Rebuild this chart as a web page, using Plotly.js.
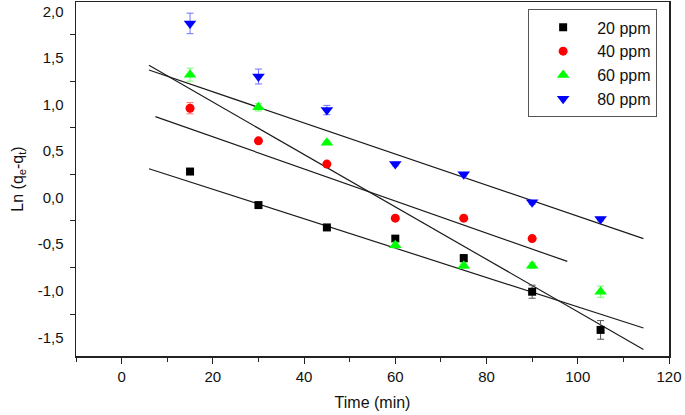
<!DOCTYPE html>
<html>
<head>
<meta charset="utf-8">
<script src="https://cdn.plot.ly/plotly-3.0.1.min.js"></script>
<style>
  html, body { margin: 0; padding: 0; background: #fff; }
  #chart { width: 685px; height: 415px; }
</style>
</head>
<body>
<div id="chart"></div>
<script>
// ---- data ----
const time = [15, 30, 45, 60, 75, 90, 105];

const ppm20 = [0.28, -0.08, -0.32, -0.44, -0.65, -1.01, -1.42];
const ppm40 = [0.96, 0.61, 0.36, -0.22, -0.22, -0.44, null];
const ppm60 = [1.32, 0.97, 0.59, -0.51, -0.73, -0.73, -1.01];
const ppm80 = [1.87, 1.30, 0.94, 0.36, 0.25, -0.05, -0.23];

const err20 = [0.02, 0.02, 0.02, 0.03, 0.04, 0.07, 0.10];
const err40 = [0.06, 0.02, 0.02, 0.02, 0.02, 0.02, 0];
const err60 = [0.07, 0.04, 0.02, 0.03, 0.03, 0.03, 0.06];
const err80 = [0.11, 0.08, 0.05, 0.02, 0.02, 0.02, 0.02];

// linear fit lines (end points)
const fit20x = [6, 114.4],  fit20y = [0.31, -1.40];
const fit40x = [7.4, 97.7], fit40y = [0.87, -0.685];
const fit60x = [6, 114.4],  fit60y = [1.42, -1.63];
const fit80x = [6, 114.4],  fit80y = [1.37, -0.44];

const seriesNames = ['20 ppm', '40 ppm', '60 ppm', '80 ppm'];

const xTickVals = [0, 20, 40, 60, 80, 100, 120];
const xTickText = ['0', '20', '40', '60', '80', '100', '120'];
const xMinorVals = [-10, 10, 30, 50, 70, 90, 110];
const yTickVals = [2.0, 1.5, 1.0, 0.5, 0.0, -0.5, -1.0, -1.5];
const yTickText = ['2,0', '1,5', '1,0', '0,5', '0,0', '-0,5', '-1,0', '-1,5'];
const yMinorVals = [1.75, 1.25, 0.75, 0.25, -0.25, -0.75, -1.25];

// ---- chart ----
const FONT = 'Arial, "Liberation Sans", sans-serif';

function fit(x, y) {
  return { x: x, y: y, type: 'scatter', mode: 'lines', showlegend: false,
           hoverinfo: 'skip', line: { color: '#1a1a1a', width: 1.2 } };
}
function pts(y, err, name, color, errColor, symbol, size) {
  return { x: time, y: y, name: name, type: 'scatter', mode: 'markers',
           marker: { color: color, symbol: symbol, size: size },
           error_y: { type: 'data', array: err, visible: true, color: errColor,
                      thickness: 1, width: 3.5 } };
}

const traces = [
  fit(fit20x, fit20y), fit(fit40x, fit40y), fit(fit60x, fit60y), fit(fit80x, fit80y),
  pts(ppm20, err20, seriesNames[0], '#000000', '#555555', 'square', 8),
  pts(ppm40, err40, seriesNames[1], '#ff0000', '#ff7070', 'circle', 9),
  pts(ppm60, err60, seriesNames[2], '#00ff00', '#70ff70', 'triangle-up', 11),
  pts(ppm80, err80, seriesNames[3], '#0000ff', '#7070ff', 'triangle-down', 11)
];

const layout = {
  width: 685, height: 415,
  margin: { l: 76, r: 16, t: 1.5, b: 59, pad: 0 },
  paper_bgcolor: '#ffffff', plot_bgcolor: '#ffffff',
  font: { family: FONT, size: 15, color: '#111' },
  showlegend: true,
  legend: {
    x: 0.98, y: 0.979, xanchor: 'right', yanchor: 'top',
    bordercolor: '#555', borderwidth: 1, bgcolor: '#fff',
    font: { family: FONT, size: 16, color: '#111' },
    itemwidth: 58, tracegroupgap: 0
  },
  xaxis: {
    range: [-10, 120], showgrid: false, zeroline: false,
    showline: true, linecolor: '#222', linewidth: 1.5, mirror: true,
    tickmode: 'array', tickvals: xTickVals, ticktext: xTickText,
    ticks: 'outside', ticklen: 6, tickwidth: 1, tickcolor: '#222',
    minor: { tickvals: xMinorVals, ticks: 'outside', ticklen: 4, tickwidth: 1, tickcolor: '#222' },
    tickfont: { family: FONT, size: 15, color: '#111' },
    title: { text: 'Time (min)', font: { family: FONT, size: 16, color: '#111' }, standoff: 13 }
  },
  yaxis: {
    range: [-1.7, 2.1], showgrid: false, zeroline: false,
    showline: true, linecolor: '#222', linewidth: 1.5, mirror: true,
    tickmode: 'array', tickvals: yTickVals, ticktext: yTickText,
    ticks: '', ticklabelstandoff: 8,
    minor: { tickvals: yMinorVals, ticks: 'outside', ticklen: 5, tickwidth: 1, tickcolor: '#222' },
    tickfont: { family: FONT, size: 15, color: '#111' },
    title: { text: 'Ln (q<sub>e</sub>-q<sub>t</sub>)', font: { family: FONT, size: 16, color: '#111' }, standoff: 10 }
  }
};

Plotly.newPlot('chart', traces, layout, { staticPlot: true, displayModeBar: false });
</script>
</body>
</html>
